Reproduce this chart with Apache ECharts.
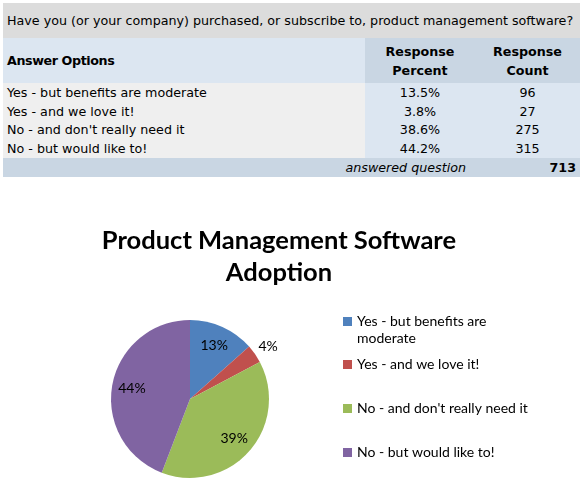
<!DOCTYPE html>
<html>
<head>
<meta charset="utf-8">
<script src="https://cdn.jsdelivr.net/npm/echarts@6/dist/echarts.min.js"></script>
<style>
  html, body { margin: 0; padding: 0; background: #fff; }
  body { width: 586px; height: 489px; position: relative; overflow: hidden; }
  #survey {
    position: absolute; left: 3px; top: 3px; width: 577px;
    border-collapse: collapse; table-layout: fixed;
    font-family: 'DejaVu Sans', sans-serif; font-size: 12.7px; color: #000;
  }
  #survey td { padding: 0 4px; white-space: nowrap; overflow: hidden; }
  #survey .q td { background: #dcdcdc; height: 35px; }
  #survey .head td { height: 45px; font-weight: bold; line-height: 19px; }
  #survey .head .opt { background: #dce6f1; letter-spacing: -0.4px; }
  #survey .head .num { background: #c9d6e3; text-align: center; }
  #survey .row td { height: 18.75px; line-height: 17px; }
  #survey .row .opt { background: #efefef; }
  #survey .row .num { background: #dce6f1; text-align: center; }
  #survey .foot td { background: #c9d6e3; height: 19px; }
  #survey .foot .lbl { text-align: right; font-style: italic; padding-right: 9px; }
  #survey .foot .tot { text-align: right; font-weight: bold; }
  #chart { position: absolute; left: 0; top: 185px; width: 558px; height: 304px; }
</style>
</head>
<body>
<table id="survey"></table>
<div id="chart"></div>
<script>
const question = 'Have you (or your company) purchased, or subscribe to, product management software?'
const categories = ['Yes - but benefits are moderate', 'Yes - and we love it!', "No - and don't really need it", 'No - but would like to!']
const percents = [13.5, 3.8, 38.6, 44.2]
const counts = [96, 27, 275, 315]
const answered = 713
const colors = ['#4f81bd', '#c0504d', '#9bbb59', '#8064a2']

// table above the chart
const table = document.getElementById('survey')
let html = '<colgroup><col style="width:362px"><col style="width:110px"><col style="width:105px"></colgroup>'
html += '<tr class="q"><td colspan="3">' + question + '</td></tr>'
html += '<tr class="head"><td class="opt">Answer Options</td><td class="num">Response<br>Percent</td><td class="num">Response<br>Count</td></tr>'
categories.forEach((c, i) => {
  html += '<tr class="row"><td class="opt">' + c + '</td><td class="num">' + percents[i].toFixed(1) + '%</td><td class="num">' + counts[i] + '</td></tr>'
})
html += '<tr class="foot"><td class="lbl" colspan="2">answered question</td><td class="tot">' + answered + '</td></tr>'
table.innerHTML = html

// greedy word wrap for long legend names
function wrap(text, maxChars) {
  const lines = []
  let line = ''
  text.split(' ').forEach(w => {
    if (line && (line + ' ' + w).length > maxChars) {
      lines.push(line)
      line = w
    } else {
      line = line ? line + ' ' + w : w
    }
  })
  lines.push(line)
  // a blank first line keeps the icon level with the first text line
  return lines.length > 1 ? '\n' + lines.join('\n') : text
}

const chart = echarts.init(document.getElementById('chart'))
const pieData = categories.map((name, i) => ({ name, value: counts[i] }))
const font = 'Lato, sans-serif'

chart.setOption({
  animation: false,
  color: colors,
  title: {
    text: 'Product Management Software\nAdoption',
    left: 'center',
    top: 35,
    textStyle: { fontFamily: font, fontSize: 25.5, fontWeight: 'bold', color: '#000', lineHeight: 32 },
  },
  legend: {
    orient: 'vertical',
    left: 343,
    top: 111,
    padding: 0,
    itemWidth: 9,
    itemHeight: 9,
    itemGap: -9,
    icon: 'rect',
    selectedMode: false,
    formatter: name => wrap(name, 30),
    textStyle: { fontFamily: font, fontSize: 14, color: '#000', lineHeight: 17, padding: [18, 0, 18, 0] },
    data: categories.map(name => wrap(name, 30).includes('\n')
      ? { name, textStyle: { padding: 0 } }
      : { name }),
  },
  series: [
    {
      type: 'pie',
      center: [190, 214],
      radius: [0, 79],
      startAngle: 90,
      clockwise: true,
      data: pieData,
      silent: true,
      label: {
        position: 'outside',
        fontFamily: font,
        fontSize: 14,
        color: '#000',
        distanceToLabelLine: -8,
        formatter: p => p.percent < 10 ? Math.round(p.percent) + '%' : '',
      },
      labelLine: { show: false, length: 14, length2: 0 },
      emphasis: { disabled: true },
    },
    {
      // carries the inside labels a bit further out than the default midpoint
      type: 'pie',
      center: [190, 214],
      radius: [0, 112],
      startAngle: 90,
      clockwise: true,
      data: pieData,
      silent: true,
      itemStyle: { color: 'transparent' },
      label: {
        position: 'inside',
        fontFamily: font,
        fontSize: 14,
        color: '#000',
        formatter: p => p.percent < 10 ? '' : Math.round(p.percent) + '%',
      },
      emphasis: { disabled: true },
    },
  ],
})
</script>
</body>
</html>
